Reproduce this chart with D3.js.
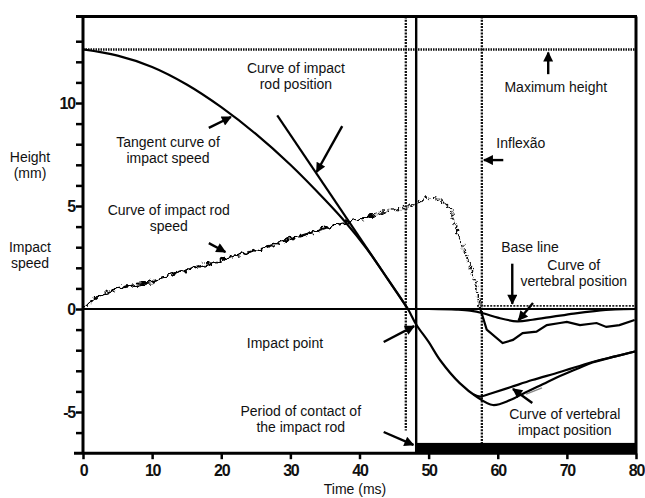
<!DOCTYPE html>
<html>
<head>
<meta charset="utf-8">
<script src="https://cdn.jsdelivr.net/npm/d3@7/dist/d3.min.js"></script>
<style>
  body { margin: 0; background: #fff; }
  text { font-family: "Liberation Sans", Arial, sans-serif; fill: #111; }
</style>
</head>
<body>
<svg id="chart" width="645" height="498"></svg>
<script>
// time in ms, height in mm
const xTicks = [0, 10, 20, 30, 40, 50, 60, 70, 80];
const yMinorTicks = d3.range(-6, 14);
const yLabelTicks = [-5, 0, 5, 10];

// impact rod position (falls, then follows the vertebra)
const rodT = [0, 5, 10, 15, 20, 25, 30, 35, 38, 41, 44, 47, 48.2, 50, 51.7, 54.5, 57, 59.3, 61.8, 64, 66.5, 69, 71.5, 73.7, 77, 80];
const rodY = [12.6, 12.3, 11.75, 10.9, 9.8, 8.5, 7.0, 5.3, 4.2, 2.95, 1.5, 0, -0.75, -1.6, -2.5, -3.6, -4.27, -4.66, -4.42, -4.05, -3.65, -3.25, -2.9, -2.6, -2.3, -2.05];

// tangent of impact speed
const tanT = [28.1, 47];
const tanY = [9.4, 0];

// impact rod speed: wavy part, dotted part, after inflexion
const speedT = [0, 2.1, 5, 9.8, 14.3, 19.5, 21.4, 25.7, 28.6, 32, 35.8, 38.2, 42];
const speedY = [0, 0.6, 1.0, 1.3, 1.85, 2.3, 2.55, 2.9, 3.25, 3.6, 4.0, 4.2, 4.55];
const speedDotT = [42, 43, 46.9, 50.2, 52.1, 53.1, 54.5, 56.4, 57.4];
const speedDotY = [4.55, 4.66, 4.95, 5.4, 5.2, 4.8, 3.4, 1.75, 0.1];
const speedAfterT = [57.4, 58.4, 60.7, 62.2, 63.6, 65.6, 67.1, 69, 70, 71.9, 74.3, 75.7, 77.6, 79.8];
const speedAfterY = [0.1, -1.0, -1.65, -1.5, -1.17, -1.1, -0.78, -0.68, -0.63, -0.78, -0.68, -0.87, -0.78, -0.53];

// vertebral position and vertebral impact position
const vertT = [50, 54, 56, 58, 60, 62.8, 65, 68, 71, 74, 77, 80];
const vertY = [0, -0.03, -0.08, -0.22, -0.42, -0.6, -0.52, -0.37, -0.22, -0.1, -0.02, 0];
const vImpT = [56.5, 57.5, 59, 61.8, 65, 69, 73.7, 77, 80];
const vImpY = [-4.15, -4.25, -4.1, -3.8, -3.45, -3.06, -2.57, -2.3, -2.05];

// reference lines
const maxHeight = 12.6;
const baseLineT = [57, 80];
const baseLineY = 0.15;
const dottedT = [46.7, 57.7];
const dottedEnd = [-5.9, -6.5];
const impactT = 48.2;
const contact = [48.2, 80];

const svg = d3.select('#chart');
const x = d3.scaleLinear().domain([0, 80]).range([83, 636]);
const y = d3.scaleLinear().domain([-7, 14.2]).range([453.2, 16.5]);

const defs = svg.append('defs');
defs.append('marker')
  .attr('id', 'head')
  .attr('viewBox', '0 0 10 10')
  .attr('refX', 9).attr('refY', 5)
  .attr('markerWidth', 12).attr('markerHeight', 10)
  .attr('markerUnits', 'userSpaceOnUse')
  .attr('orient', 'auto')
  .append('path').attr('d', 'M0,0 L10,5 L0,10 z').attr('fill', '#000');

// wobbly look of the scanned speed trace
const wig = defs.append('filter').attr('id', 'wiggle')
  .attr('x', '-5%').attr('y', '-20%').attr('width', '110%').attr('height', '140%');
wig.append('feTurbulence').attr('type', 'fractalNoise').attr('baseFrequency', 0.25)
  .attr('numOctaves', 1).attr('seed', 4).attr('result', 'n');
wig.append('feDisplacementMap').attr('in', 'SourceGraphic').attr('in2', 'n')
  .attr('scale', 9).attr('xChannelSelector', 'R').attr('yChannelSelector', 'G');

const line = d3.line().x(d => x(d[0])).y(d => y(d[1]));
const smooth = d3.line().x(d => x(d[0])).y(d => y(d[1])).curve(d3.curveCatmullRom);
const zip = (a, b) => a.map((t, i) => [t, b[i]]);

// dotted reference lines
svg.append('line')
  .attr('x1', x(0)).attr('x2', x(80)).attr('y1', y(maxHeight)).attr('y2', y(maxHeight))
  .attr('stroke', '#111').attr('stroke-width', 2.4).attr('stroke-dasharray', '1.5,1');
dottedT.forEach((t, i) => {
  svg.append('line')
    .attr('x1', x(t)).attr('x2', x(t)).attr('y1', y(14.2)).attr('y2', y(dottedEnd[i]))
    .attr('stroke', '#111').attr('stroke-width', 2.3).attr('stroke-dasharray', '2,1.2');
});
svg.append('line')
  .attr('x1', x(baseLineT[0])).attr('x2', x(baseLineT[1])).attr('y1', y(baseLineY)).attr('y2', y(baseLineY))
  .attr('stroke', '#222').attr('stroke-width', 1.8).attr('stroke-dasharray', '2,1.3');

// zero line and impact line
svg.append('line')
  .attr('x1', x(0)).attr('x2', x(80)).attr('y1', y(0)).attr('y2', y(0))
  .attr('stroke', '#000').attr('stroke-width', 2.2);
svg.append('line')
  .attr('x1', x(impactT)).attr('x2', x(impactT)).attr('y1', y(14.2)).attr('y2', y(-7))
  .attr('stroke', '#000').attr('stroke-width', 2.4);

// period of contact bar
svg.append('rect')
  .attr('x', x(contact[0])).attr('width', x(contact[1]) - x(contact[0]))
  .attr('y', y(-6.5)).attr('height', y(-7) - y(-6.5))
  .attr('fill', '#000');

// curves
svg.append('path').attr('d', smooth(zip(rodT, rodY)))
  .attr('fill', 'none').attr('stroke', '#000').attr('stroke-width', 2.2);
svg.append('path').attr('d', line(zip(tanT, tanY)))
  .attr('fill', 'none').attr('stroke', '#000').attr('stroke-width', 2.2);
svg.append('path').attr('d', smooth(zip(vImpT, vImpY)))
  .attr('fill', 'none').attr('stroke', '#000').attr('stroke-width', 2.2);
svg.append('path').attr('d', smooth(zip(vertT, vertY)))
  .attr('fill', 'none').attr('stroke', '#000').attr('stroke-width', 2.2);
svg.append('path').attr('d', line(zip(speedT, speedY)))
  .attr('fill', 'none').attr('stroke', '#000').attr('stroke-width', 2.2).attr('filter', 'url(#wiggle)');
svg.append('path').attr('d', smooth(zip(speedDotT, speedDotY)))
  .attr('fill', 'none').attr('stroke', '#111').attr('stroke-width', 2.4).attr('stroke-dasharray', '2,1.2')
  .attr('filter', 'url(#wiggle)');
svg.append('path').attr('d', line(zip(speedAfterT, speedAfterY)))
  .attr('fill', 'none').attr('stroke', '#000').attr('stroke-width', 2.2);

// axes
const tickFont = '"Liberation Sans", Arial, sans-serif';
const yAxis = svg.append('g').attr('transform', `translate(${x(0)},0)`)
  .call(d3.axisLeft(y).tickValues(yMinorTicks).tickSize(7).tickPadding(1)
    .tickFormat(d => yLabelTicks.includes(d) ? String(d) : ''));
yAxis.select('.domain').remove();
yAxis.selectAll('line').attr('stroke-width', 2.5);
yAxis.selectAll('text').attr('font-size', 16).attr('font-weight', 'bold')
  .attr('letter-spacing', -1.2).attr('font-family', tickFont).attr('fill', '#111');

const xAxis = svg.append('g').attr('transform', `translate(0,${y(-7)})`)
  .call(d3.axisBottom(x).tickValues(xTicks).tickSize(6).tickPadding(5));
xAxis.select('.domain').remove();
xAxis.selectAll('line').attr('stroke-width', 2.5);
xAxis.selectAll('text').attr('font-size', 16).attr('font-weight', 'bold')
  .attr('letter-spacing', -1.2).attr('font-family', tickFont).attr('fill', '#111');

// frame
const frame = svg.append('g').attr('stroke', '#000').attr('stroke-width', 3).attr('fill', 'none');
frame.append('line').attr('x1', x(0) - 7).attr('x2', x(80) + 1).attr('y1', y(14.2)).attr('y2', y(14.2));
frame.append('line').attr('x1', x(0)).attr('x2', x(0)).attr('y1', y(14.2)).attr('y2', y(-7));
frame.append('line').attr('x1', x(0) - 9).attr('x2', x(80) + 1).attr('y1', y(-7)).attr('y2', y(-7));
frame.append('line').attr('x1', x(80)).attr('x2', x(80)).attr('y1', y(14.2)).attr('y2', y(-7));

// arrows [from, to] in data units
const arrows = [
  [[67.3, 11.4], [67.3, 12.45]],
  [[18.2, 8.79], [21.4, 9.32]],
  [[37.5, 8.88], [33.8, 6.65]],
  [[18.2, 3.2], [20.6, 2.77]],
  [[60.8, 7.23], [58.0, 7.23]],
  [[62.1, 2.2], [62.1, 0.25]],
  [[65.1, 0.29], [63.0, -0.55]],
  [[43.5, -1.6], [47.9, -0.83]],
  [[43.5, -5.97], [47.8, -6.6]],
  [[65.0, -4.56], [62.2, -3.88]]
];
svg.append('g').selectAll('line').data(arrows).join('line')
  .attr('x1', d => x(d[0][0])).attr('y1', d => y(d[0][1]))
  .attr('x2', d => x(d[1][0])).attr('y2', d => y(d[1][1]))
  .attr('stroke', '#000').attr('stroke-width', 2.4).attr('marker-end', 'url(#head)');
svg.append('line')
  .attr('x1', x(66.4)).attr('y1', y(-3.83)).attr('x2', x(64.1)).attr('y2', y(-4.13))
  .attr('stroke', '#888').attr('stroke-width', 1.5);

// annotations: [lines, t, value at first baseline, anchor]
const notes = [
  [['Curve of impact', 'rod position'], 30.8, 11.46, 'middle'],
  [['Maximum height'], 68.4, 10.53, 'middle'],
  [['Tangent curve of', 'impact speed'], 12.3, 7.86, 'middle'],
  [['Curve of impact rod', 'speed'], 12.4, 4.56, 'middle'],
  [['Inflexão'], 59.8, 7.82, 'start'],
  [['Base line'], 60.5, 2.77, 'start'],
  [['Curve of', 'vertebral position'], 71.0, 1.89, 'middle'],
  [['Impact point'], 23.7, -1.89, 'start'],
  [['Period of contact of', 'the impact rod'], 31.5, -5.19, 'middle'],
  [['Curve of vertebral', 'impact position'], 69.7, -5.34, 'middle']
];
notes.forEach(([lines, t, v, anchor]) => {
  const txt = svg.append('text').attr('font-size', 14).attr('text-anchor', anchor)
    .attr('x', x(t)).attr('y', y(v));
  lines.forEach((s, i) => txt.append('tspan').attr('x', x(t)).attr('dy', i ? 16 : 0).text(s));
});

// axis titles
const side = svg.append('g').attr('font-size', 14).attr('text-anchor', 'middle');
side.append('text').attr('x', 30).attr('y', 162).text('Height');
side.append('text').attr('x', 30).attr('y', 178).text('(mm)');
side.append('text').attr('x', 30).attr('y', 252).text('Impact');
side.append('text').attr('x', 30).attr('y', 268).text('speed');
svg.append('text').attr('font-size', 14).attr('text-anchor', 'middle')
  .attr('x', 355).attr('y', 494).text('Time (ms)');
</script>
</body>
</html>
